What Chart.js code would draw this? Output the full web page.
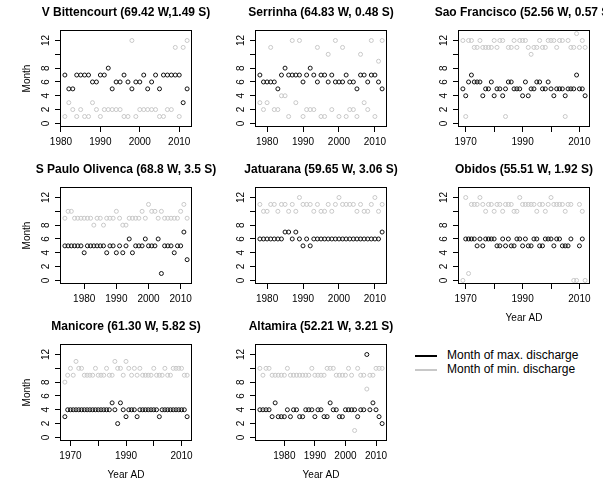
<!DOCTYPE html>
<html>
<head>
<meta charset="utf-8">
<script src="https://cdn.jsdelivr.net/npm/chart.js@4.4.1/dist/chart.umd.min.js"></script>
<style>
  html, body { margin: 0; padding: 0; background: #fff; }
  #wrap { position: relative; width: 603px; height: 480px; overflow: hidden; }
  #wrap canvas { position: absolute; }
  .key { position: absolute; left: 415px; font: 12px "Liberation Sans", Arial, sans-serif; color: #000; white-space: nowrap; line-height: 14px; }
  .key span { display: inline-block; width: 22px; height: 2px; vertical-align: middle; margin-right: 10px; }
</style>
</head>
<body>
<div id="wrap">
  <div class="key" style="top:348px"><span style="background:#000"></span>Month of max. discharge</div>
  <div class="key" style="top:362px"><span style="background:#c8c8c8"></span>Month of min. discharge</div>
</div>
<script>
// years on record per station
const years8112 = [1981,1982,1983,1984,1985,1986,1987,1988,1989,1990,1991,1992,1993,1994,1995,1996,1997,1998,1999,2000,2001,2002,2003,2004,2005,2006,2007,2008,2009,2010,2011,2012];
const years7812 = [1978,1979,1980,1981,1982,1983,1984,1985,1986,1987,1988,1989,1990,1991,1992,1993,1994,1995,1996,1997,1998,1999,2000,2001,2002,2003,2004,2005,2006,2007,2008,2009,2010,2011,2012];
const years6912 = [1969,1970,1971,1972,1973,1974,1975,1976,1977,1978,1979,1980,1981,1982,1983,1984,1985,1986,1987,1988,1989,1990,1991,1992,1993,1994,1995,1996,1997,1998,1999,2000,2001,2002,2003,2004,2005,2006,2007,2008,2009,2010,2011,2012];
const years7412 = [1974,1975,1976,1977,1978,1979,1980,1981,1982,1983,1984,1985,1986,1987,1988,1989,1990,1991,1992,1993,1994,1995,1996,1997,1998,1999,2000,2001,2002,2003,2004,2005,2006,2007,2008,2009,2010,2011,2012];
const years6812 = [1968,1969,1970,1971,1972,1973,1974,1975,1976,1977,1978,1979,1980,1981,1982,1983,1984,1985,1986,1987,1988,1989,1990,1991,1992,1993,1994,1995,1996,1997,1998,1999,2000,2001,2002,2003,2004,2005,2006,2007,2008,2009,2010,2011,2012];
const years7212 = [1972,1973,1974,1975,1976,1977,1978,1979,1980,1981,1982,1983,1984,1985,1986,1987,1988,1989,1990,1991,1992,1993,1994,1995,1996,1997,1998,1999,2000,2001,2002,2003,2004,2005,2006,2007,2008,2009,2010,2011,2012];

// month of max / min discharge
const bittMax = [7,5,5,7,7,7,7,6,6,7,7,8,5,6,6,7,6,5,6,6,7,5,6,7,5,7,7,7,7,7,3,5];
const bittMin = [1,3,2,1,2,1,1,3,2,1,2,2,2,2,2,1,1,12,1,2,2,2,2,2,1,1,2,2,11,1,11,12];
const serrMax = [7,6,6,6,6,5,7,8,7,7,7,7,6,7,8,7,6,7,7,6,7,6,6,6,7,6,6,5,7,7,6,7,7,6,5];
const serrMin = [3,2,3,11,2,2,4,4,1,12,3,12,1,2,2,2,11,1,1,10,2,12,1,11,1,2,2,1,10,3,2,12,1,9,12];
const saoMax = [5,4,6,7,6,6,6,4,5,5,6,4,5,5,4,5,6,6,5,5,5,4,6,4,5,5,6,6,5,5,6,5,4,5,5,5,4,5,5,5,7,5,5,4];
const saoMin = [12,1,12,12,11,11,12,11,11,11,11,12,11,12,12,1,11,11,12,11,12,12,12,11,10,11,11,12,11,11,12,12,12,11,12,12,1,12,11,11,13,11,12,11];
const pauloMax = [5,5,5,5,5,5,4,5,5,5,5,5,5,4,5,5,4,5,4,5,6,4,5,5,5,6,5,5,5,6,1,5,5,5,4,5,5,7,3];
const pauloMin = [9,10,10,9,9,9,9,9,9,8,9,9,8,9,9,9,10,9,8,8,9,9,9,9,10,9,11,10,10,9,10,9,9,9,9,9,10,11,9];
const jatuMax = [6,6,6,6,6,6,6,7,7,6,7,6,5,6,5,6,6,6,6,6,6,6,6,6,6,6,6,6,6,6,6,6,6,6,7];
const jatuMin = [11,10,10,11,11,10,11,11,10,11,10,12,11,11,11,10,11,10,10,11,10,11,12,11,11,11,11,10,11,10,10,11,12,10,11];
const obiMax = [null,6,6,6,6,5,6,5,6,6,6,6,5,5,6,5,6,5,5,6,6,5,6,5,5,6,6,5,5,6,6,6,5,6,6,5,5,5,6,null,null,5,6,null];
const obiMin = [0,12,1,11,11,11,12,11,10,11,11,10,11,11,10,11,11,11,10,10,12,11,11,11,11,11,10,11,11,10,11,12,11,11,11,11,10,11,11,0,0,11,10,0];
const maniMax = [3,4,4,4,4,4,4,4,4,4,4,4,4,4,4,4,4,5,4,2,5,4,3,4,4,4,3,4,4,4,4,4,4,4,3,4,4,4,4,4,4,4,4,4,3];
const maniMin = [8,9,10,9,11,10,10,9,9,9,9,10,9,9,9,10,9,9,11,10,10,9,11,10,9,10,9,10,9,9,9,9,10,9,9,9,10,9,9,10,10,10,10,9,9];
const altaMax = [4,4,4,4,3,5,3,3,3,4,3,4,4,3,3,4,4,4,3,4,4,3,3,5,4,4,3,3,4,4,4,4,3,4,4,12,4,5,4,3,2];
const altaMin = [10,9,10,10,9,9,9,9,9,10,9,9,9,9,9,9,9,10,9,9,9,9,10,10,10,9,9,9,9,10,9,1,10,9,9,7,9,9,10,10,10];

// axis ticks
const yTickValues = [0, 2, 4, 6, 8, 10, 12];
const yTickLabels = ['0', '2', '4', '6', '8', '', '12'];
const xTicksDecade = [1980, 1990, 2000, 2010];
const xTicksLong = [1970, 1980, 1990, 2000, 2010];
const xLabelsLong = [1970, 1990, 2010];

const FONT = '"Liberation Sans", Arial, sans-serif';
const BOX_W = 132, BOX_H = 97;
const SIDE = 66, TOP = 34, BOTTOM = 46;
const wrap = document.querySelector('#wrap');

const panels = [
  { title: 'V Bittencourt (69.42 W,1.49 S)', years: years8112, max: bittMax, min: bittMin, xt: xTicksDecade, xl: xTicksDecade, month: true, yearAD: false, bx: 60, by: 30 },
  { title: 'Serrinha (64.83 W, 0.48 S)', years: years7812, max: serrMax, min: serrMin, xt: xTicksDecade, xl: xTicksDecade, month: false, yearAD: false, bx: 255, by: 30 },
  { title: 'Sao Francisco (52.56 W, 0.57 S)', years: years6912, max: saoMax, min: saoMin, xt: xTicksLong, xl: xLabelsLong, month: false, yearAD: false, bx: 458, by: 30 },
  { title: 'S Paulo Olivenca (68.8 W, 3.5 S)', years: years7412, max: pauloMax, min: pauloMin, xt: xTicksDecade, xl: xTicksDecade, month: true, yearAD: false, bx: 60, by: 187 },
  { title: 'Jatuarana (59.65 W, 3.06 S)', years: years7812, max: jatuMax, min: jatuMin, xt: xTicksDecade, xl: xTicksDecade, month: false, yearAD: false, bx: 255, by: 187 },
  { title: 'Obidos (55.51 W, 1.92 S)', years: years6912, max: obiMax, min: obiMin, xt: xTicksLong, xl: xLabelsLong, month: false, yearAD: true, bx: 458, by: 187 },
  { title: 'Manicore (61.30 W, 5.82 S)', years: years6812, max: maniMax, min: maniMin, xt: xTicksLong, xl: xLabelsLong, month: true, yearAD: true, bx: 60, by: 344 },
  { title: 'Altamira (52.21 W, 3.21 S)', years: years7212, max: altaMax, min: altaMin, xt: xTicksDecade, xl: xTicksDecade, month: false, yearAD: true, bx: 255, by: 344 }
];

// R style box around the plot region
const boxPlugin = {
  id: 'box',
  afterDraw(chart) {
    const a = chart.chartArea;
    const ctx = chart.ctx;
    ctx.save();
    ctx.strokeStyle = '#000';
    ctx.lineWidth = 1;
    ctx.strokeRect(Math.round(a.left) + 0.5, Math.round(a.top) + 0.5, Math.round(a.right - a.left) - 1, Math.round(a.bottom - a.top) - 1);
    ctx.restore();
  }
};

function toPoints(years, vals) {
  return years.map((y, i) => ({ x: y, y: vals[i] })).filter(d => d.y !== null);
}

function drawPanel(p) {
  const cv = document.createElement('canvas');
  const w = SIDE + BOX_W + SIDE, h = TOP + BOX_H + BOTTOM;
  cv.width = w; cv.height = h;
  cv.style.width = w + 'px'; cv.style.height = h + 'px';
  cv.style.left = (p.bx - SIDE) + 'px';
  cv.style.top = (p.by - TOP) + 'px';
  wrap.appendChild(cv);

  const first = p.years[0], last = p.years[p.years.length - 1];
  const ext = (last - first) * 0.04;
  const tickGrid = { display: true, drawOnChartArea: false, drawTicks: true, tickLength: 5, color: '#000', lineWidth: 1 };
  const tickFont = { family: FONT, size: 10 };

  new Chart(cv, {
    type: 'scatter',
    data: {
      datasets: [
        { label: 'Month of max. discharge', data: toPoints(p.years, p.max), borderColor: '#111', backgroundColor: 'rgba(0,0,0,0)' },
        { label: 'Month of min. discharge', data: toPoints(p.years, p.min), borderColor: '#c8c8c8', backgroundColor: 'rgba(0,0,0,0)' }
      ]
    },
    options: {
      responsive: false,
      animation: false,
      devicePixelRatio: 1,
      layout: { padding: 0 },
      elements: { point: { radius: 2, hoverRadius: 2, borderWidth: 1, pointStyle: 'circle' } },
      plugins: {
        legend: { display: false },
        tooltip: { enabled: false },
        title: {
          display: true,
          text: p.title,
          color: '#000',
          font: { family: FONT, size: 12, weight: 'bold', lineHeight: '14px' },
          padding: { top: 9.5, bottom: 10.5 }
        }
      },
      scales: {
        x: {
          type: 'linear',
          position: 'bottom',
          min: first - ext,
          max: last + ext,
          afterBuildTicks: s => { s.ticks = p.xt.map(v => ({ value: v })); },
          afterFit: s => { s.height = BOTTOM; },
          ticks: {
            autoSkip: false, minRotation: 0, maxRotation: 0, padding: 4, color: '#000', font: tickFont,
            callback: v => (p.xl.includes(v) ? String(v) : '')
          },
          grid: tickGrid,
          border: { display: false },
          title: { display: p.yearAD, text: 'Year AD', color: '#000', font: tickFont, padding: { top: 0, bottom: 6 } }
        },
        y: {
          type: 'linear',
          position: 'left',
          min: -0.52,
          max: 13.52,
          afterBuildTicks: s => { s.ticks = yTickValues.map(v => ({ value: v })); },
          afterFit: s => { s.width = SIDE; },
          ticks: {
            autoSkip: false, minRotation: 90, maxRotation: 90, crossAlign: 'center', padding: 3, color: '#000', font: tickFont,
            callback: v => yTickLabels[yTickValues.indexOf(v)]
          },
          grid: tickGrid,
          border: { display: false },
          title: { display: p.month, text: 'Month', color: '#000', font: tickFont, padding: { top: 27, bottom: 0 } }
        },
        // empty right-hand margin so the title centres over the plot box
        pad: {
          type: 'linear',
          position: 'right',
          display: true,
          afterFit: s => { s.width = SIDE; },
          ticks: { display: false },
          grid: { display: false },
          border: { display: false }
        }
      }
    },
    plugins: [boxPlugin]
  });
}

panels.forEach(drawPanel);
</script>
</body>
</html>
